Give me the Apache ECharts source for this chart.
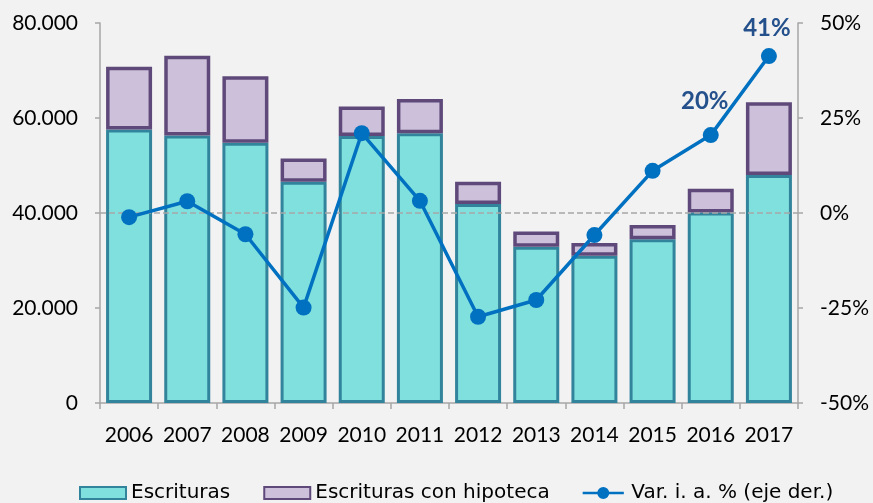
<!DOCTYPE html>
<html>
<head>
<meta charset="utf-8">
<script src="https://cdn.jsdelivr.net/npm/echarts@6/dist/echarts.min.js"></script>
<style>
  html, body { margin: 0; padding: 0; background: #F2F2F2; }
  #chart { width: 873px; height: 503px; }
</style>
</head>
<body>
<div id="chart"></div>
<script>
// Data
const years = ['2006', '2007', '2008', '2009', '2010', '2011', '2012', '2013', '2014', '2015', '2016', '2017'];
const escrituras = [57600, 56300, 54800, 46600, 56200, 56800, 41900, 32900, 31000, 34500, 40100, 48000];
const conHipoteca = [13200, 16800, 14000, 4900, 6200, 7200, 4700, 3200, 2700, 3000, 5000, 15300];
const varIa = [-1.1, 3.1, -5.6, -24.9, 21.0, 3.2, -27.3, -22.9, -5.8, 11.1, 20.5, 41.3];
const varLabels = ['', '', '', '', '', '', '', '', '', '', '20%', '41%'];
const leftTicks = [0, 20000, 40000, 60000, 80000];
const rightTicks = [-50, -25, 0, 25, 50];

const chart = echarts.init(document.getElementById('chart'));

const axisGray = '#A6A6A6';
const tickFont = { fontFamily: 'Lato', fontSize: 21, color: '#000000' };

// only the last two points carry a label
const lineData = varIa.map((v, i) => ({
  value: v,
  label: {
    show: varLabels[i] !== '',
    formatter: varLabels[i],
    offset: i === 10 ? [-6, -6] : [-2, 0]
  }
}));

// legend icon for the line: a stroke with a big dot in the middle
const lineIcon = 'path://M0,5.5H48V8.5H0Z M24,0A7,7 0 1,1 24,14A7,7 0 1,1 24,0Z';

const option = {
  backgroundColor: '#F2F2F2',
  animation: false,
  grid: { left: 100, right: 75, top: 23, bottom: 100 },
  legend: {
    left: 74,
    top: 478,
    itemGap: 33,
    itemWidth: 46,
    itemHeight: 12,
    textStyle: { fontFamily: 'DejaVu Sans', fontSize: 20, color: '#000000' },
    data: [
      { name: 'Escrituras', icon: 'rect' },
      { name: 'Escrituras con hipoteca', icon: 'rect' },
      { name: 'Var. i. a. % (eje der.)', icon: lineIcon, itemStyle: { color: '#0070C0', borderWidth: 0 } }
    ]
  },
  xAxis: {
    type: 'category',
    data: years,
    axisLine: { lineStyle: { color: axisGray, width: 1.5 } },
    axisTick: { show: true, length: 6, lineStyle: { color: axisGray, width: 1.5 } },
    axisLabel: { ...tickFont, interval: 0, margin: 22 }
  },
  yAxis: [
    {
      type: 'value',
      min: leftTicks[0],
      max: leftTicks[leftTicks.length - 1],
      interval: leftTicks[1] - leftTicks[0],
      splitLine: { show: false },
      axisLine: { show: true, lineStyle: { color: axisGray, width: 1.5 } },
      axisTick: { show: true, length: 5, lineStyle: { color: axisGray, width: 1.5 } },
      axisLabel: {
        ...tickFont,
        margin: 22,
        formatter: v => v === 0 ? '0' : (v / 1000) + '.000'
      }
    },
    {
      type: 'value',
      min: rightTicks[0],
      max: rightTicks[rightTicks.length - 1],
      interval: rightTicks[1] - rightTicks[0],
      splitLine: { show: false },
      axisLine: { show: true, lineStyle: { color: axisGray, width: 1.5 } },
      axisTick: { show: true, length: 5, lineStyle: { color: axisGray, width: 1.5 } },
      axisLabel: { ...tickFont, margin: 22, formatter: v => v + '%' }
    }
  ],
  series: [
    {
      name: 'Escrituras',
      type: 'bar',
      stack: 'total',
      barWidth: 46,
      data: escrituras,
      itemStyle: { color: '#80E0DD', borderColor: '#31849B', borderWidth: 3 }
    },
    {
      name: 'Escrituras con hipoteca',
      type: 'bar',
      stack: 'total',
      barWidth: 46,
      data: conHipoteca,
      itemStyle: { color: '#CCC0DA', borderColor: '#5F497A', borderWidth: 3.5 }
    },
    {
      name: 'Var. i. a. % (eje der.)',
      type: 'line',
      yAxisIndex: 1,
      z: 5,
      data: lineData,
      symbol: 'circle',
      symbolSize: 16,
      lineStyle: { color: '#0070C0', width: 3.5 },
      itemStyle: { color: '#0070C0' },
      label: {
        position: 'top',
        distance: 8,
        fontFamily: 'Lato',
        fontWeight: 'bold',
        fontSize: 24,
        color: '#24508C'
      },
      markLine: {
        silent: true,
        symbol: 'none',
        label: { show: false },
        lineStyle: { color: '#A6A6A6', type: 'dashed', width: 1.5 },
        data: [{ yAxis: 0 }]
      }
    }
  ]
};

chart.setOption(option);
</script>
</body>
</html>
